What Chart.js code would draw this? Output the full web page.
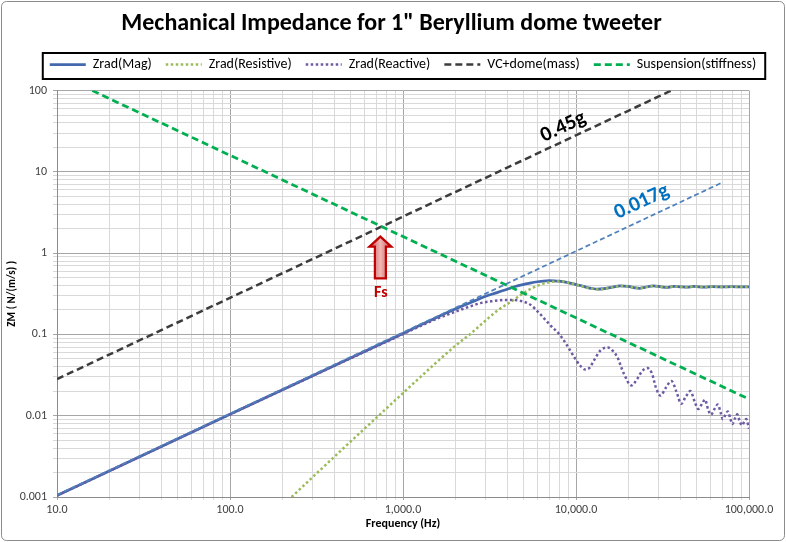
<!DOCTYPE html>
<html><head><meta charset="utf-8">
<script src="https://cdn.jsdelivr.net/npm/chart.js@4.4.0/dist/chart.umd.min.js"></script>
<style>html,body{margin:0;padding:0;background:#fff;}#wrap{width:786px;height:542px;}canvas{display:block;}</style>
</head><body><div id="wrap"><canvas id="c" width="786" height="542"></canvas></div>
<script>
// ---------- data ----------
const magFreq = [10, 100, 1000, 1500, 2000, 2500, 3000, 3500, 4000, 4500, 5000, 5500, 6000, 6500, 7000, 7500, 8000, 9000, 10000, 10600, 11500, 12500, 13300, 14500, 16000, 18000, 20000, 22000, 23200, 25000, 28000, 31000, 33500, 37000, 40000, 44000, 48000, 55000, 62000, 70000, 80000, 90000, 100000];
const magZ = [0.00104, 0.0104, 0.103, 0.155, 0.205, 0.25, 0.295, 0.327, 0.36, 0.392, 0.413, 0.432, 0.445, 0.454, 0.458, 0.457, 0.452, 0.435, 0.41, 0.4, 0.38, 0.366, 0.36, 0.365, 0.38, 0.395, 0.39, 0.375, 0.37, 0.38, 0.395, 0.385, 0.378, 0.39, 0.386, 0.382, 0.389, 0.383, 0.388, 0.384, 0.387, 0.385, 0.386];

const resFreq = [227, 300, 500, 700, 1000, 1500, 2000, 2500, 2800, 3500, 4355, 5000, 5500, 6000, 6790, 7500, 8200, 9000, 10000, 10600, 11500, 12500, 13300, 14500, 16000, 18000, 20000, 22000, 23200, 25000, 28000, 31000, 33500, 37000, 40000, 44000, 48000, 55000, 62000, 70000, 80000, 90000, 100000];
const resZ = [0.001, 0.00175, 0.00485, 0.0094, 0.019, 0.042, 0.072, 0.105, 0.13, 0.195, 0.265, 0.325, 0.365, 0.398, 0.432, 0.447, 0.45, 0.435, 0.408, 0.398, 0.378, 0.365, 0.358, 0.364, 0.379, 0.394, 0.389, 0.375, 0.369, 0.379, 0.394, 0.385, 0.378, 0.39, 0.386, 0.382, 0.389, 0.383, 0.388, 0.384, 0.387, 0.385, 0.386];

const reacFreq = [10, 100, 1000, 1500, 2000, 2500, 2800, 3300, 3800, 4300, 4800, 5450, 6200, 7100, 8100, 9000, 9800, 10600, 11300, 12000, 12700, 13900, 15300, 16300, 17300, 18900, 20900, 22500, 24000, 25800, 27500, 29000, 30800, 33000, 35600, 38000, 40600, 43000, 45800, 48500, 50900, 53500, 55700, 58000, 60300, 63000, 66000, 68500, 70500, 73000, 75400, 78000, 80000, 83000, 85500, 88000, 91000, 94000, 96400, 100000];
const reacZ = [0.00104, 0.0104, 0.101, 0.15, 0.19, 0.225, 0.243, 0.257, 0.265, 0.266, 0.258, 0.232, 0.178, 0.13, 0.098, 0.07, 0.052, 0.041, 0.037, 0.039, 0.048, 0.064, 0.069, 0.063, 0.053, 0.033, 0.0236, 0.028, 0.035, 0.0386, 0.033, 0.022, 0.0177, 0.022, 0.0267, 0.02, 0.014, 0.017, 0.0201, 0.015, 0.0121, 0.014, 0.0158, 0.012, 0.0103, 0.012, 0.0137, 0.011, 0.0091, 0.0102, 0.0113, 0.0092, 0.0079, 0.0093, 0.0104, 0.0088, 0.0076, 0.0085, 0.0091, 0.0069];

const massFreq = [10, 35500];
const massZ = [0.0282, 100];
const suspFreq = [16, 100000];
const suspZ = [100, 0.016];
const radMassFreq = [10, 69000];
const radMassZ = [0.00106, 7.3];

const seriesNames = ['Zrad(Mag)', 'Zrad(Resistive)', 'Zrad(Reactive)', 'VC+dome(mass)', 'Suspension(stiffness)', '0.017g line'];

const xTickValues = [10, 100, 1000, 10000, 100000];
const xTickLabels = ['10.0', '100.0', '1,000.0', '10,000.0', '100,000.0'];
const yTickValues = [0.001, 0.01, 0.1, 1, 10, 100];
const yTickLabels = ['0.001', '0.01', '0.1', '1', '10', '100'];

const noteTexts = ['0.45g', '0.017g', 'Fs'];
const noteFreq = [8450, 24000, 745];
const noteZ = [35.6, 4.26, 0.323];
const fsFreq = 740;
const fsArrowTop = 1.6;
const fsArrowBottom = 0.49;

// ---------- helpers ----------
const FONT = "Carlito, Calibri, 'Liberation Sans Narrow', 'Open Sans', sans-serif";
const pts = (xs, ys) => xs.map((x, i) => ({ x: x, y: ys[i] }));
const isDecade = v => Math.abs(Math.log10(v) - Math.round(Math.log10(v))) < 1e-9;
function gridValues(decades) {
  const out = [];
  for (let i = 0; i < decades.length - 1; i++) for (let m = 1; m < 10; m++) out.push(+(decades[i] * m).toPrecision(6));
  out.push(decades[decades.length - 1]);
  return out;
}
function labelFor(v, values, labels) {
  for (let i = 0; i < values.length; i++) if (Math.abs(v / values[i] - 1) < 1e-6) return labels[i];
  return '';
}
const gridColor = c => (c.tick && isDecade(c.tick.value)) ? '#a6a6a6' : '#d9d9d9';

const LEGEND_DX = 25.5, LEGEND_DY = -9, LEGEND_PAD = 14, LEGEND_FONT = 14, TITLE_DX = 14;
const decor = {
  id: 'decor',
  afterLayout(chart) {
    const lg = chart.legend;
    if (lg) { lg.left += LEGEND_DX; lg.right += LEGEND_DX; lg.top += LEGEND_DY; lg.bottom += LEGEND_DY; }
    const tb = chart.titleBlock;
    if (tb) { tb.left += TITLE_DX; tb.right += TITLE_DX; }
  },
  beforeDraw(chart) {
    const c = chart.ctx; c.save(); c.fillStyle = '#fff'; c.fillRect(0, 0, chart.width, chart.height); c.restore();
  },
  afterDatasetsDraw(chart) {
    const c = chart.ctx, xs = chart.scales.x, ys = chart.scales.y;
    const p0 = [xs.getPixelForValue(massFreq[0]), ys.getPixelForValue(massZ[0])];
    const p1 = [xs.getPixelForValue(massFreq[1]), ys.getPixelForValue(massZ[1])];
    const ang = Math.atan2(p1[1] - p0[1], p1[0] - p0[0]);
    c.save();
    c.textAlign = 'center'; c.textBaseline = 'middle';
    const styles = [{ col: '#000000', size: 21, rot: ang }, { col: '#0070c0', size: 21, rot: ang }, { col: '#c00000', size: 16, rot: 0 }];
    noteTexts.forEach((t, i) => {
      c.save();
      c.translate(xs.getPixelForValue(noteFreq[i]), ys.getPixelForValue(noteZ[i]));
      c.rotate(styles[i].rot);
      c.fillStyle = styles[i].col;
      c.font = 'bold ' + styles[i].size + 'px ' + FONT;
      c.fillText(t, 0, 0);
      c.restore();
    });
    // Fs arrow
    const ax = xs.getPixelForValue(fsFreq), at = ys.getPixelForValue(fsArrowTop), ab = ys.getPixelForValue(fsArrowBottom);
    const hw = 11, sw = 5.5, hh = 10;
    c.beginPath();
    c.moveTo(ax, at); c.lineTo(ax + hw, at + hh); c.lineTo(ax + sw, at + hh); c.lineTo(ax + sw, ab);
    c.lineTo(ax - sw, ab); c.lineTo(ax - sw, at + hh); c.lineTo(ax - hw, at + hh); c.closePath();
    const g = c.createLinearGradient(ax - hw, 0, ax + hw, 0);
    g.addColorStop(0, '#c0504d'); g.addColorStop(0.5, '#f2b8b6'); g.addColorStop(1, '#c0504d');
    c.fillStyle = g; c.fill();
    c.lineWidth = 2.2; c.strokeStyle = '#c00000'; c.lineJoin = 'miter'; c.stroke();
    c.restore();
  },
  afterDraw(chart) {
    const c = chart.ctx, lg = chart.legend;
    c.save();
    if (lg && lg.legendHitBoxes && lg.legendHitBoxes.length) {
      const hb = lg.legendHitBoxes;
      const w = hb.reduce((s, h) => s + h.width, 0) + LEGEND_PAD * (hb.length - 1) + 16;
      const cx = (lg.left + lg.right) / 2 + 1;
      const cy = lg.top + LEGEND_PAD + LEGEND_FONT * 0.6;
      c.lineWidth = 2; c.strokeStyle = '#000';
      c.strokeRect(cx - w / 2, cy - 13, w, 26);
    }
    c.lineWidth = 1; c.strokeStyle = '#8c8c8c';
    const r = 5, x0 = 1.5, y0 = 1.5, x1 = chart.width - 1.5, y1 = chart.height - 1.5;
    c.beginPath();
    c.moveTo(x0 + r, y0); c.lineTo(x1 - r, y0); c.arcTo(x1, y0, x1, y0 + r, r); c.lineTo(x1, y1 - r); c.arcTo(x1, y1, x1 - r, y1, r);
    c.lineTo(x0 + r, y1); c.arcTo(x0, y1, x0, y1 - r, r); c.lineTo(x0, y0 + r); c.arcTo(x0, y0, x0 + r, y0, r); c.closePath();
    c.stroke();
    c.restore();
  }
};

const dsBase = { pointRadius: 0, pointHoverRadius: 0, fill: false, cubicInterpolationMode: 'monotone' };
new Chart(document.getElementById('c'), {
  type: 'line',
  data: {
    datasets: [
      Object.assign({}, dsBase, { label: seriesNames[0], data: pts(magFreq, magZ), borderColor: '#4468ad', backgroundColor: '#4468ad', borderWidth: 2.75, order: 5 }),
      Object.assign({}, dsBase, { label: seriesNames[1], data: pts(resFreq, resZ), borderColor: '#9bbb59', backgroundColor: '#9bbb59', borderWidth: 2.5, borderDash: [2.5, 2.5], order: 4 }),
      Object.assign({}, dsBase, { label: seriesNames[2], data: pts(reacFreq, reacZ), borderColor: '#6e5aa3', backgroundColor: '#6e5aa3', borderWidth: 2.5, borderDash: [2.5, 2.5], order: 3 }),
      Object.assign({}, dsBase, { label: seriesNames[3], data: pts(massFreq, massZ), borderColor: '#3c3c3c', backgroundColor: '#3c3c3c', borderWidth: 2.5, borderDash: [7, 4], order: 2 }),
      Object.assign({}, dsBase, { label: seriesNames[4], data: pts(suspFreq, suspZ), borderColor: '#00b050', backgroundColor: '#00b050', borderWidth: 2.75, borderDash: [7, 4], order: 1 }),
      Object.assign({}, dsBase, { label: seriesNames[5], data: pts(radMassFreq, radMassZ), borderColor: '#4f81bd', backgroundColor: '#4f81bd', borderWidth: 1.75, borderDash: [5, 3], order: 0 })
    ]
  },
  options: {
    responsive: false, animation: false, devicePixelRatio: 1,
    layout: { padding: { top: 8, left: 6, right: 37, bottom: 10 } },
    plugins: {
      tooltip: { enabled: false },
      title: { display: true, text: 'Mechanical Impedance for 1" Beryllium dome tweeter', color: '#000', font: { family: FONT, size: 24, weight: 'bold' }, padding: { top: 2, bottom: 13.8 } },
      legend: {
        position: 'top',
        labels: {
          usePointStyle: true, pointStyle: 'line', pointStyleWidth: 36, boxHeight: 14, padding: LEGEND_PAD, color: '#000',
          font: { family: FONT, size: LEGEND_FONT },
          filter: (item) => item.datasetIndex < 5,
          sort: (a, b) => a.datasetIndex - b.datasetIndex,
          generateLabels: (chart) => {
            const items = Chart.defaults.plugins.legend.labels.generateLabels(chart);
            items.forEach(it => {
              const ds = chart.data.datasets[it.datasetIndex];
              it.lineDash = ds.borderDash || [];
              it.lineWidth = ds.borderWidth;
              it.strokeStyle = ds.borderColor;
              it.fillStyle = ds.borderColor;
              it.pointStyle = 'line';
            });
            return items;
          }
        }
      }
    },
    scales: {
      x: {
        type: 'logarithmic', min: 10, max: 100000,
        afterBuildTicks: s => { s.ticks = gridValues(xTickValues).map(v => ({ value: v })); },
        afterFit: s => { s.height = 35; },
        ticks: { autoSkip: false, maxRotation: 0, color: '#404040', font: { family: FONT, size: 12 }, padding: 3, callback: v => labelFor(v, xTickValues, xTickLabels) },
        grid: { color: gridColor, tickColor: gridColor, tickLength: 3, lineWidth: 1 },
        border: { color: '#8c8c8c' },
        title: { display: true, text: 'Frequency (Hz)', color: '#000', font: { family: FONT, size: 12, weight: 'bold' }, padding: { top: 0, bottom: 1 } }
      },
      y: {
        type: 'logarithmic', min: 0.001, max: 100,
        afterBuildTicks: s => { s.ticks = gridValues(yTickValues).map(v => ({ value: v })); },
        afterFit: s => { s.width = 51; },
        ticks: { autoSkip: false, color: '#404040', font: { family: FONT, size: 12 }, padding: 6, callback: v => labelFor(v, yTickValues, yTickLabels) },
        grid: { color: gridColor, tickColor: gridColor, tickLength: 4, lineWidth: 1 },
        border: { color: '#8c8c8c' },
        title: { display: true, text: 'ZM ( N/(m/s) )', color: '#000', font: { family: FONT, size: 11, weight: 'bold' }, padding: { top: 0, bottom: 2 } }
      }
    }
  },
  plugins: [decor]
});
</script></body></html>
